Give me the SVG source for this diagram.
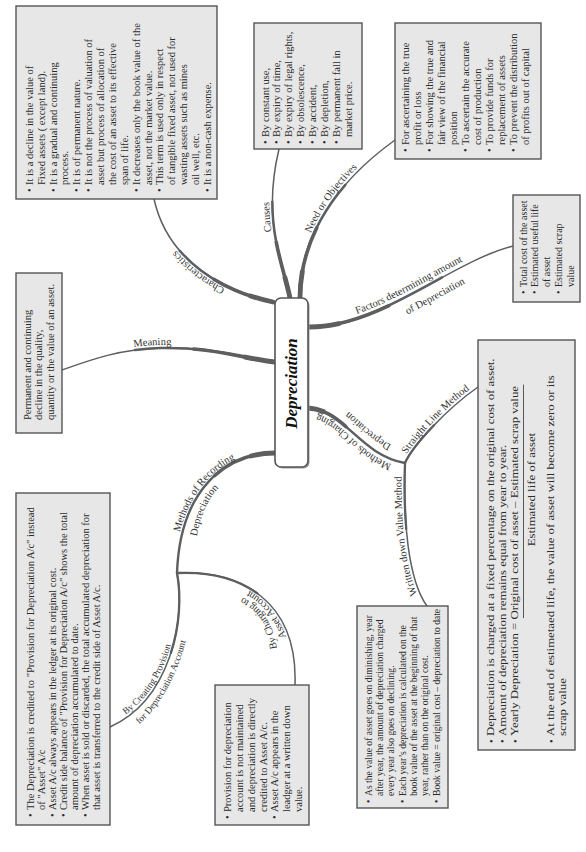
<svg xmlns="http://www.w3.org/2000/svg" width="586" height="852" viewBox="0 0 586 852">
<style>
.box{fill:#e7e7e7;stroke:#555;stroke-width:1.4}
.t{font-family:"Liberation Serif","Times New Roman",serif;font-size:10.5px;fill:#2b2b2b}
.lbl{font-family:"Liberation Serif","Times New Roman",serif;font-size:10.5px;fill:#333;stroke:none}
#connectors{fill:none;stroke:#5e5e5e;stroke-linecap:round}
.w1{stroke-width:1.5}
.w2{stroke-width:2.5;stroke-dasharray:65 300}
.w2f{stroke-width:2.4}
.w3{stroke-width:3.6;stroke-dasharray:38 300}
.w4{stroke-width:4.8;stroke-dasharray:14 300}
.s2{stroke-width:2.3;stroke-dasharray:45 300}
</style>
<defs>
<path id="c_char" pathLength="100" d="M273,302 C225,292 168,262 154,199"/>
<path id="c_causes" pathLength="100" d="M290,298 C282,260 262,220 279,149"/>
<path id="c_need" pathLength="100" d="M300,298 C300,245 328,188 395,140"/>
<path id="c_fac" pathLength="100" d="M308,327 C380,328 450,262 513,246"/>
<path id="c_mean" pathLength="100" d="M275,362 C240,358 215,347 160,348 C120,349 90,360 62,370"/>
<path id="c_mcd" pathLength="100" d="M308,408 C345,410 360,455 405,463"/>
<path id="c_slm" pathLength="100" d="M405,463 C412,447 445,410 478,387"/>
<path id="c_wdv" pathLength="100" d="M405,463 C403,520 408,580 427,606"/>
<path id="c_mrd" pathLength="100" d="M275,453 C225,453 180,490 177,573"/>
<path id="c_prov" pathLength="100" d="M177,573 C186,620 170,700 110,727"/>
<path id="c_asset" pathLength="100" d="M177,573 C240,570 298,600 295,685"/>
<path id="l_char" d="M272.4,305 C224.4,295 165,262.6 151,199.6"/>
<path id="l_mean" d="M62,367 C90,357 120,346 160,345 C215,344 240,355 275,359"/>
<path id="l_causes" d="M287,298 C279,260 259,220 276,149"/>
<path id="l_need" d="M297.5,296.3 C297.5,243.3 325.5,186.3 392.5,138.3"/>
<path id="l_fac1" d="M306,323 C378,324 448,258 511,242"/>
<path id="l_fac2" d="M318,340 C390,341 460,275 523,259"/>
<path id="l_mcd1" d="M403,467 C358,459 343,414 306,412"/>
<path id="l_mcd2" d="M411,451 C366,443 351,398 314,396"/>
<path id="l_slm" d="M403,461 C410,445 443,408 476,385"/>
<path id="l_wdv" d="M424,606 C405,580 400,520 402,463"/>
<path id="l_mrd1" d="M174,573 C177,490 225,450 275,450"/>
<path id="l_mrd2" d="M193,573 C196,490 226,469 275,469"/>
<path id="l_prov1" d="M108.8,724.3 C168.8,697.3 183.1,620.6 174.1,573.6"/>
<path id="l_prov2" d="M115.7,739.7 C175.7,712.7 199.7,617.3 190.7,570.3"/>
<path id="l_asset1" d="M292,685 C295,600 240,573 177,576"/>
<path id="l_asset2" d="M279,684.5 C282,599.5 240.7,586 177.7,589"/>
</defs>
<rect x="0" y="0" width="586" height="852" fill="#fff"/>

<g id="connectors">
<use href="#c_char" class="w1"/><use href="#c_char" class="w2"/><use href="#c_char" class="w3"/><use href="#c_char" class="w4"/>
<use href="#c_causes" class="w1"/><use href="#c_causes" class="w2"/><use href="#c_causes" class="w3"/><use href="#c_causes" class="w4"/>
<use href="#c_need" class="w1"/><use href="#c_need" class="w2"/><use href="#c_need" class="w3"/><use href="#c_need" class="w4"/>
<use href="#c_fac" class="w1"/><use href="#c_fac" class="w2"/><use href="#c_fac" class="w3"/><use href="#c_fac" class="w4"/>
<use href="#c_mean" class="w1"/><use href="#c_mean" class="w2"/><use href="#c_mean" class="w3"/><use href="#c_mean" class="w4"/>
<use href="#c_mcd" class="w2f"/><use href="#c_mcd" class="w3"/><use href="#c_mcd" class="w4"/>
<use href="#c_mrd" class="w2f"/><use href="#c_mrd" class="w3"/><use href="#c_mrd" class="w4"/>
<use href="#c_slm" class="w1"/><use href="#c_slm" class="s2"/>
<use href="#c_wdv" class="w1"/><use href="#c_wdv" class="s2"/>
<use href="#c_prov" class="w1"/><use href="#c_prov" class="s2"/>
<use href="#c_asset" class="w1"/><use href="#c_asset" class="s2"/>

<text class="lbl" text-anchor="middle"><textPath href="#l_char" startOffset="48%">Characteristics</textPath></text>
<text class="lbl" text-anchor="middle"><textPath href="#l_mean" startOffset="43%">Meaning</textPath></text>
<text class="lbl" text-anchor="middle"><textPath href="#l_causes" startOffset="55%">Causes</textPath></text>
<text class="lbl" text-anchor="middle"><textPath href="#l_need" startOffset="55%">Need or Objectives</textPath></text>
<text class="lbl" text-anchor="middle"><textPath href="#l_fac1" startOffset="50%">Factors determining amount</textPath></text>
<text class="lbl" text-anchor="middle"><textPath href="#l_fac2" startOffset="57%">of Depreciation</textPath></text>
<text class="lbl" text-anchor="middle"><textPath href="#l_mcd1" startOffset="50%">Methods of Charging</textPath></text>
<text class="lbl" text-anchor="middle"><textPath href="#l_mcd2" startOffset="42%">Depreciation</textPath></text>
<text class="lbl" text-anchor="middle"><textPath href="#l_slm" startOffset="50%">Straight Line Method</textPath></text>
<text class="lbl" text-anchor="middle"><textPath href="#l_wdv" startOffset="50%">Written down Value Method</textPath></text>
<text class="lbl" text-anchor="middle"><textPath href="#l_mrd1" startOffset="50%">Methods of Recording</textPath></text>
<text class="lbl" text-anchor="middle"><textPath href="#l_mrd2" startOffset="42%">Depreciation</textPath></text>
<text class="lbl" text-anchor="middle" style="font-size:9.5px"><textPath href="#l_prov1" startOffset="35%">By Creating Provision</textPath></text>
<text class="lbl" text-anchor="middle" style="font-size:9.5px"><textPath href="#l_prov2" startOffset="39%">for Depreciation Account</textPath></text>
<text class="lbl" text-anchor="middle"><textPath href="#l_asset1" startOffset="43%">Asset Account</textPath></text>
<text class="lbl" text-anchor="middle"><textPath href="#l_asset2" startOffset="41%">By Charging to</textPath></text>
</g>

<g id="node-depreciation">
<rect x="276.5" y="299.5" width="33" height="169" rx="6" fill="#9a9a9a"/>
<rect x="275" y="298" width="33" height="169" rx="6" fill="#fff" stroke="#555" stroke-width="1.6"/>
<text transform="translate(0,852) rotate(-90)" x="468.5" y="297" text-anchor="middle" font-family="Liberation Serif, serif" font-weight="bold" font-style="italic" font-size="17" fill="#111">Depreciation</text>
</g>

<g id="node-characteristics">
<rect class="box" x="16" y="6" width="201" height="193"/>
<g class="t" transform="translate(0,852) rotate(-90)">
<text y="32.8"><tspan x="660">•</tspan><tspan x="667">It is a decline in the value of</tspan></text>
<text x="667" y="44.7">Fixed assets ( except land).</text>
<text y="56.5"><tspan x="660">•</tspan><tspan x="667">It is a gradual and continuing</tspan></text>
<text x="667" y="68.4">process.</text>
<text y="80.3"><tspan x="660">•</tspan><tspan x="667">It is of permanent nature.</tspan></text>
<text y="92.2"><tspan x="660">•</tspan><tspan x="667">It is not the process of valuation of</tspan></text>
<text x="667" y="104">asset but process of allocation of</text>
<text x="667" y="115.9">the cost of an asset to its effective</text>
<text x="667" y="127.8">span of life.</text>
<text y="139.6"><tspan x="660">•</tspan><tspan x="667">It decreases only the book value of the</tspan></text>
<text x="667" y="151.5">asset, not the market value.</text>
<text y="163.4"><tspan x="660">•</tspan><tspan x="667">This term is used only in respect</tspan></text>
<text x="667" y="175.2">of tangible fixed asset, not used for</text>
<text x="667" y="187.1">wasting assets such as mines</text>
<text x="667" y="199">oil well, etc.</text>
<text y="210.9"><tspan x="660">•</tspan><tspan x="667">It is a non-cash expense.</tspan></text>
</g>
</g>

<g id="node-causes">
<rect class="box" x="254" y="23" width="108" height="126"/>
<g class="t" transform="translate(0,852) rotate(-90)">
<text y="268.5"><tspan x="708">•</tspan><tspan x="715">By constant use,</tspan></text>
<text y="280.4"><tspan x="708">•</tspan><tspan x="715">By expiry of time,</tspan></text>
<text y="292.3"><tspan x="708">•</tspan><tspan x="715">By expiry of legal rights,</tspan></text>
<text y="304.2"><tspan x="708">•</tspan><tspan x="715">By obsolescence,</tspan></text>
<text y="316.1"><tspan x="708">•</tspan><tspan x="715">By accident,</tspan></text>
<text y="328"><tspan x="708">•</tspan><tspan x="715">By depletion,</tspan></text>
<text y="339.9"><tspan x="708">•</tspan><tspan x="715">By permanent fall in</tspan></text>
<text x="715" y="351.8">market price.</text>
</g>
</g>

<g id="node-need">
<rect class="box" x="395" y="23" width="146" height="136"/>
<g class="t" transform="translate(0,852) rotate(-90)">
<text y="408.5"><tspan x="700">•</tspan><tspan x="707">For ascertaining the true</tspan></text>
<text x="707" y="420.5">profit or loss</text>
<text y="432.5"><tspan x="700">•</tspan><tspan x="707">For showing the true and</tspan></text>
<text x="707" y="444.5">fair view of the financial</text>
<text x="707" y="456.5">position</text>
<text y="468.5"><tspan x="700">•</tspan><tspan x="707">To ascertain the accurate</tspan></text>
<text x="707" y="480.5">cost of production</text>
<text y="492.5"><tspan x="700">•</tspan><tspan x="707">To provide funds for</tspan></text>
<text x="707" y="504.5">replacement of assets</text>
<text y="516.5"><tspan x="700">•</tspan><tspan x="707">To prevent the distribution</tspan></text>
<text x="707" y="528.5">of profits out of capital</text>
</g>
</g>

<g id="node-factors">
<rect class="box" x="513" y="195" width="67" height="107"/>
<g class="t" transform="translate(0,852) rotate(-90)" style="font-size:10px">
<text y="526.5"><tspan x="558">•</tspan><tspan x="565">Total cost of the asset</tspan></text>
<text y="538.3"><tspan x="558">•</tspan><tspan x="565">Estimated useful life</tspan></text>
<text x="565" y="550.1">of asset</text>
<text y="561.9"><tspan x="558">•</tspan><tspan x="565">Estimated scrap</tspan></text>
<text x="565" y="573.7">value</text>
</g>
</g>

<g id="node-meaning">
<rect class="box" x="16" y="273" width="46" height="160"/>
<g class="t" transform="translate(0,852) rotate(-90)">
<text x="432" y="30.5">Permanent and continuing</text>
<text x="432" y="42.2">decline in the quality,</text>
<text x="432" y="53.9">quantity or the value of an asset.</text>
</g>
</g>

<g id="node-provision">
<rect class="box" x="16" y="493" width="94" height="332"/>
<g class="t" transform="translate(0,852) rotate(-90)">
<text y="33.5"><tspan x="35">•</tspan><tspan x="42">The Depreciation is credited to "Provision for Depreciation A/c" instead</tspan></text>
<text x="42" y="44.6">of "Asset" A/c</text>
<text y="55.7"><tspan x="35">•</tspan><tspan x="42">Asset A/c always appears in the ledger at its original cost.</tspan></text>
<text y="66.8"><tspan x="35">•</tspan><tspan x="42">Credit side balance of "Provision for Depreciation A/c" shows the total</tspan></text>
<text x="42" y="77.9">amount of depreciation accumulated to date.</text>
<text y="89"><tspan x="35">•</tspan><tspan x="42">When asset is sold or discarded, the total accumulated depreciation for</tspan></text>
<text x="42" y="100.1">that asset is transferred to the credit side of Asset A/c.</text>
</g>
</g>

<g id="node-asset">
<rect class="box" x="215" y="685" width="94" height="140"/>
<g class="t" transform="translate(0,852) rotate(-90)">
<text y="231.2"><tspan x="33">•</tspan><tspan x="40">Provision for depreciation</tspan></text>
<text x="40" y="243">account is not maintained</text>
<text x="40" y="254.7">and depreciation is directly</text>
<text x="40" y="266.5">credited to Asset A/c.</text>
<text y="278.3"><tspan x="33">•</tspan><tspan x="40">Asset A/c appears in the</tspan></text>
<text x="40" y="290">leadger at a written down</text>
<text x="40" y="301.8">value.</text>
</g>
</g>

<g id="node-wdv">
<rect class="box" x="357" y="606" width="91" height="202"/>
<g class="t" transform="translate(0,852) rotate(-90)" style="font-size:9.6px">
<text y="371.8"><tspan x="49">•</tspan><tspan x="56">As the value of asset goes on diminishing, year</tspan></text>
<text x="56" y="383.1">after year, the amount of depreciation charged</text>
<text x="56" y="394.4">every year also goes on declining.</text>
<text y="405.7"><tspan x="49">•</tspan><tspan x="56">Each year’s depreciation is calculated on the</tspan></text>
<text x="56" y="417">book value of the asset at the beginning of that</text>
<text x="56" y="428.3">year, rather than on the original cost.</text>
<text y="439.6"><tspan x="49">•</tspan><tspan x="56">Book value = original cost – depreciation to date</tspan></text>
</g>
</g>

<g id="node-slm">
<rect class="box" x="478" y="340" width="97" height="410"/>
<g class="t" transform="translate(0,852) rotate(-90)">
<text x="109" y="494.5">•</text>
<text x="109" y="506.2">•</text>
<text x="109" y="518.5">•</text>
<text x="109" y="554.5">•</text>
<g transform="translate(116,0) scale(1.22,1) translate(-116,0)">
<text x="116" y="494.5">Depreciation is charged at a fixed percentage on the original cost of asset.</text>
<text x="116" y="506.2">Amount of depreciation remains equal from year to year.</text>
<text x="116" y="518.5">Yearly Depreciation = Original cost of asset – Estimated scrap value</text>
<line x1="212.6" y1="523.5" x2="404" y2="523.5" stroke="#444" stroke-width="0.8"/>
<text x="318" y="535.5" text-anchor="middle">Estimated life of asset</text>
<text x="116" y="554.5">At the end of estimetaed life, the value of asset will become zero or its</text>
<text x="116" y="566">scrap value</text>
</g>
</g>
</g>
</svg>
